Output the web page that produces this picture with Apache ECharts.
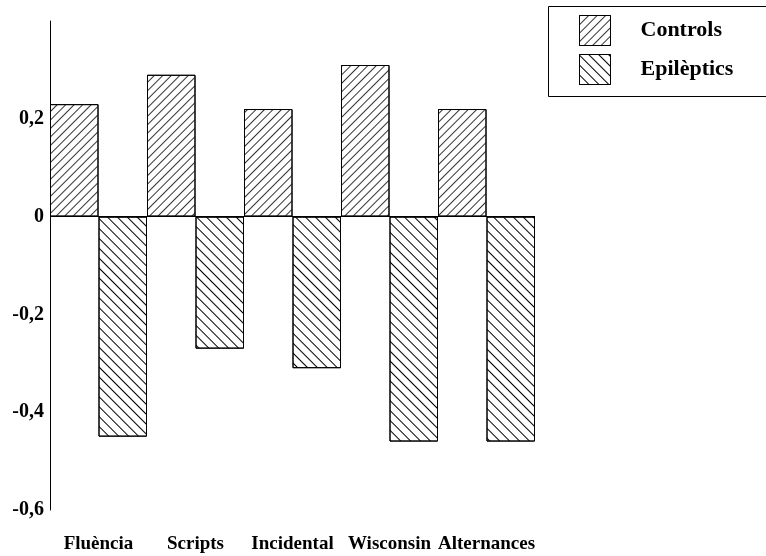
<!DOCTYPE html>
<html><head><meta charset="utf-8">
<script src="https://cdn.jsdelivr.net/npm/echarts@6/dist/echarts.min.js"></script>
<style>html,body{margin:0;padding:0;background:#fff}#c{width:766px;height:556px}</style>
</head><body><div id="c"></div>
<script>
const categories = ['Fluència', 'Scripts', 'Incidental', 'Wisconsin', 'Alternances'];
const controls = [0.23, 0.29, 0.22, 0.31, 0.22];
const epileptics = [-0.45, -0.27, -0.31, -0.46, -0.46];
const seriesNames = ['Controls', 'Epilèptics'];

const font = '"Liberation Serif", "Times New Roman", serif';
const chart = echarts.init(document.getElementById('c'), null, {renderer: 'canvas'});
const decalControls = {symbol: 'rect', symbolSize: 1, color: '#333', dashArrayX: [[1, 0]], dashArrayY: [1, 5], rotation: -Math.PI / 4};
const decalEpi = {symbol: 'rect', symbolSize: 1, color: '#000', dashArrayX: [[1, 0]], dashArrayY: [1, 6], rotation: Math.PI / 4};
chart.setOption({
  animation: false,
  backgroundColor: '#fff',
  grid: {left: 50, right: 231, top: 21, bottom: 46},
  legend: {
    orient: 'vertical', left: 579, top: 15, itemWidth: 31, itemHeight: 30, itemGap: 8, padding: 0,
    icon: 'rect',
    itemStyle: {borderWidth: 1, borderColor: '#000'},
    textStyle: {fontFamily: font, fontWeight: 'bold', fontSize: 22, color: '#000', padding: [0, 0, 0, 25]},
    data: seriesNames
  },
  graphic: [{type: 'rect', shape: {x: 548.5, y: 6.5, width: 240, height: 90}, style: {fill: 'none', stroke: '#000', lineWidth: 1}, silent: true}],
  xAxis: {
    type: 'category', data: categories,
    axisLine: {show: false, onZero: false}, axisTick: {show: false},
    axisLabel: {fontFamily: font, fontWeight: 'bold', fontSize: 19, color: '#000', margin: 25, interval: 0}
  },
  yAxis: {
    type: 'value', min: -0.6, max: 0.4, interval: 0.2,
    axisLine: {show: true, lineStyle: {color: '#000', width: 1}}, axisTick: {show: false},
    splitLine: {show: false},
    axisLabel: {fontFamily: font, fontWeight: 'bold', fontSize: 20, color: '#000', margin: 6,
      formatter: v => Math.abs(v - 0.4) < 1e-9 ? '' : (Math.abs(v) < 1e-9 ? '0' : v.toFixed(1).replace('.', ','))}
  },
  series: [
    {name: seriesNames[0], type: 'bar', data: controls, barGap: '0%', barCategoryGap: '0%',
      itemStyle: {color: '#fff', borderColor: '#000', borderWidth: 1, decal: decalControls},
      markLine: {silent: true, symbol: 'none', label: {show: false}, lineStyle: {color: '#000', type: 'solid', width: 1}, data: [{yAxis: 0}]}},
    {name: seriesNames[1], type: 'bar', data: epileptics, barGap: '0%', barCategoryGap: '0%',
      itemStyle: {color: '#fff', borderColor: '#000', borderWidth: 1, decal: decalEpi}}
  ]
});
</script></body></html>
